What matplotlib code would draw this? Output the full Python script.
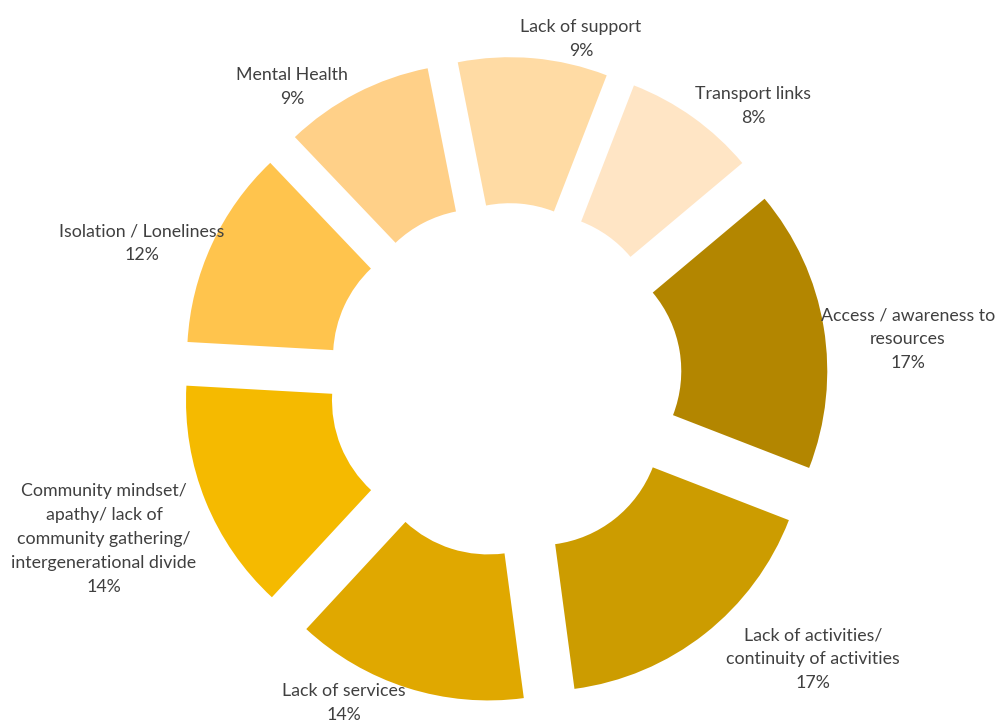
import matplotlib
matplotlib.use('Agg')
import matplotlib.pyplot as plt

labels = [
    'Access / awareness to\nresources',
    'Lack of activities/\ncontinuity of activities',
    'Lack of services',
    'Community mindset/\napathy/ lack of\ncommunity gathering/\nintergenerational divide',
    'Isolation / Loneliness',
    'Mental Health',
    'Lack of support',
    'Transport links',
]
shares = [17, 17, 14, 14, 12, 9, 9, 8]
colors = ['#B38600', '#CC9C00', '#E0A800', '#F5BA00',
          '#FFC44D', '#FFD088', '#FFDBA4', '#FFE5C5']

# label anchor points (pixel coords, y from top)
label_pos = [(908, 339), (813, 659), (344, 703), (104, 539),
             (142, 243), (292, 87), (581, 39), (753, 106)]

W, H = 996, 722
fig = plt.figure(figsize=(W / 100, H / 100), dpi=100)
ax = fig.add_axes([0, 0, 1, 1])

R = 268
cx, cy = 505, H - 380
# explode is in data units here (pixels), not a fraction of the radius
ax.pie(shares, radius=R, center=(cx, cy), startangle=40, counterclock=False,
       colors=colors, explode=[55] * len(shares),
       wedgeprops=dict(width=R - 122, linewidth=0))

for lab, v, (x, y) in zip(labels, shares, label_pos):
    ax.text(x, H - y, f'{lab}\n{v}%', ha='center', va='center',
            fontsize=12.8, color='#404040', family='Lato', linespacing=1.6)

ax.set_xlim(0, W)
ax.set_ylim(0, H)
ax.set_aspect('equal')
ax.axis('off')

fig.savefig('out.png', dpi=100, facecolor='white')
